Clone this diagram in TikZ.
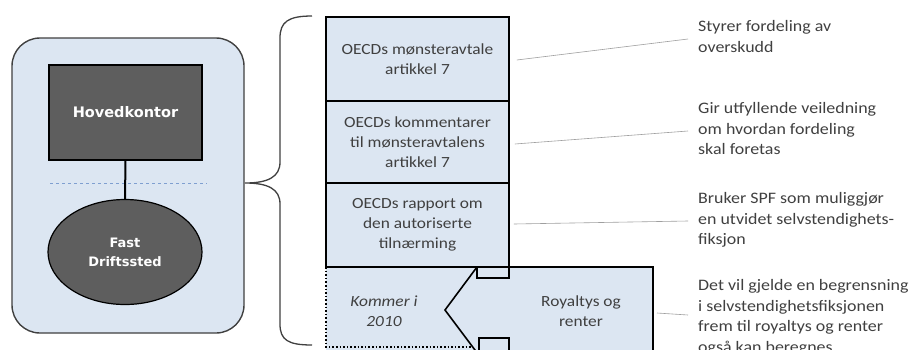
\documentclass[tikz,border=0pt]{standalone}
\usepackage{fontspec}
\setmainfont{Carlito}
\newfontfamily\wide[FakeStretch=1.12]{Carlito}
\newfontfamily\boldwide{DejaVu Sans}
\usetikzlibrary{shapes.geometric,calc}
\definecolor{lb}{HTML}{DCE6F2}
\definecolor{dg}{HTML}{5E5E5E}
\definecolor{tx}{HTML}{404040}
\definecolor{dashcol}{HTML}{7F9FD0}
\begin{document}
\begin{tikzpicture}[x=1pt,y=-1pt,
  mbox/.style={draw=black, line width=1.6pt, fill=lb, minimum width=183pt, align=center,
    font=\wide\fontsize{15.5}{20}\selectfont, text=tx, inner sep=0},
  note/.style={anchor=north west, align=left, font=\wide\fontsize{16}{20.5}\selectfont, text=tx, inner sep=0},
  lk/.style={draw=gray!75, line width=0.6pt},
  dark/.style={draw=black, line width=1.2pt, fill=dg, text=white,
    font=\boldwide\bfseries\fontsize{13}{19}\selectfont, align=center, inner sep=0}]
\useasboundingbox (0,0) rectangle (913,349);
\fill[white] (0,0) rectangle (913,349);
% left group
\node[draw=tx, line width=1.4pt, fill=lb, rounded corners=28pt, minimum width=232pt,
  minimum height=295pt, inner sep=0] (outer) at (128,185.5) {};
\draw[dashcol, line width=1pt, dash pattern=on 3pt off 3pt] (50,183) -- (207,183);
\node[dark, minimum width=153pt, minimum height=95pt, font=\boldwide\bfseries\fontsize{14.5}{19}\selectfont] (hk) at (125.5,112.5) {Hovedkontor};
\node[dark, ellipse, minimum width=154pt, minimum height=105pt] (fd) at (125,252) {Fast\\Driftssted};
\draw[black, line width=2pt] (hk.south) -- (fd.north);
% brace
\coordinate (bt) at (245,183);
\coordinate (btop) at (312,16);
\coordinate (bbot) at (312,345);
\draw[tx, line width=1.3pt] (btop) .. controls (288,16) and (280,22) .. (280,38) -- (280,162)
  .. controls (280,177) and (268,183) .. (bt)
  .. controls (268,183) and (280,189) .. (280,204) -- (280,324)
  .. controls (280,340) and (288,345) .. (bbot);
% bottom region
\fill[lb] (326,267) rectangle (653,360);
\draw[black, line width=1.6pt] (326,267) -- (653,267) -- (653,360);
\draw[black, line width=1.6pt] (477,267) -- (445,310) -- (481,358);
\draw[black, line width=1.6pt] (477,267) -- (477,278) -- (509,278) -- (509,267);
\draw[black, line width=1.6pt] (479,356) -- (479,338) -- (509,338) -- (509,356);
\draw[black, line width=1.6pt, dotted] (326,267) -- (326,347) -- (472,347);
\node[font=\wide\itshape\fontsize{15.5}{20}\selectfont, text=tx, align=center] (km) at (384,311) {Kommer i\\2010};
\node[font=\wide\fontsize{15.5}{20}\selectfont, text=tx, align=center] (ry) at (581,311) {Royaltys og\\renter};
\coordinate (ryr) at (657,313);
% middle boxes
\node[mbox, minimum height=84pt] (b1) at (417.5,59) {OECDs mønsteravtale\\artikkel 7};
\node[mbox, minimum height=82pt] (b2) at (417.5,142) {OECDs kommentarer\\til mønsteravtalens\\artikkel 7};
\node[mbox, minimum height=84pt] (b3) at (417.5,225) {OECDs rapport om\\den autoriserte\\tilnærming};
% notes
\node[note] (n1) at (698,20.5) {Styrer fordeling av\\overskudd};
\node[note] (n2) at (698,102.5) {Gir utfyllende veiledning\\om hvordan fordeling\\skal foretas};
\node[note] (n3) at (698,192.5) {Bruker SPF som muliggjør\\en utvidet selvstendighets-\\fiksjon};
\node[note] (n4) at (698,279.5) {Det vil gjelde en begrensning\\i selvstendighetsfiksjonen\\frem til royaltys og renter\\også kan beregnes};
\coordinate (e1) at (688,39);
\coordinate (e2) at (688,131);
\coordinate (e3) at (688,221);
\coordinate (e4) at (688,315);
\draw[lk] ($(b1.east)+(7,1)$) -- (e1);
\draw[lk] ($(b2.east)+(5,2)$) -- (e2);
\draw[lk] ($(b3.east)+(4,-1)$) -- (e3);
\draw[lk] (ryr) -- (e4);
\end{tikzpicture}
\end{document}
